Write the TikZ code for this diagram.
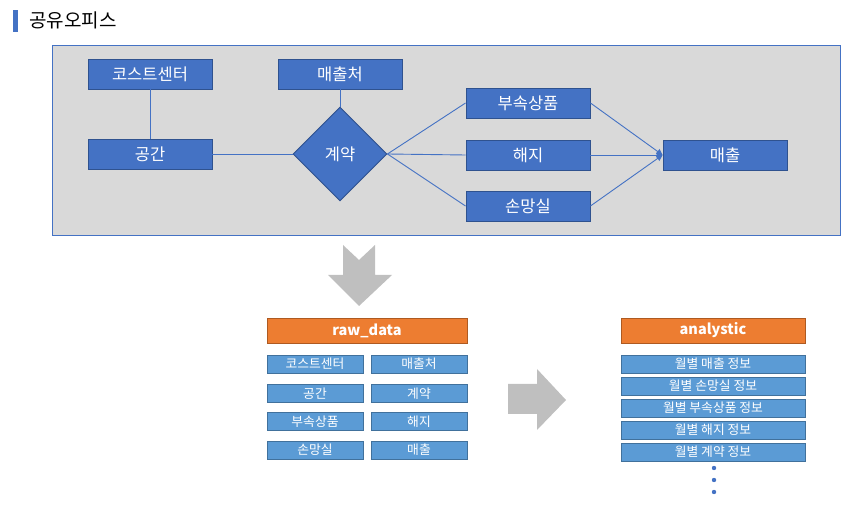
\documentclass[tikz,border=0pt]{standalone}
\usepackage{fontspec}
\setmainfont{Noto Sans CJK KR}
\usetikzlibrary{shapes.geometric,arrows.meta}
\definecolor{ent}{HTML}{4472C4}
\definecolor{entb}{HTML}{2F528F}
\definecolor{panel}{HTML}{D9D9D9}
\definecolor{org}{HTML}{ED7D31}
\definecolor{orgb}{HTML}{AE5A21}
\definecolor{lb}{HTML}{5B9BD5}
\definecolor{lbb}{HTML}{41719C}
\definecolor{garrow}{HTML}{BFBFBF}
\begin{document}
\begin{tikzpicture}[x=1pt,y=-1pt,
  entity/.style={draw=entb,fill=ent,line width=0.9pt,minimum width=124pt,minimum height=30pt,inner sep=0pt,text=white,font=\fontsize{16.5}{18}\selectfont},
  rel/.style={diamond,draw=entb,fill=ent,line width=0.9pt,minimum width=94pt,minimum height=94pt,inner sep=0pt,text=white,font=\fontsize{16.5}{18}\selectfont},
  conn/.style={draw=ent,line width=0.9pt},
  arr/.style={conn,-{Triangle[length=6pt,width=6pt]}},
  hdr/.style={draw=orgb,fill=org,line width=0.9pt,minimum height=25pt,inner sep=0pt,text=white,font=\bfseries\fontsize{14.5}{16}\selectfont},
  cell/.style={draw=lbb,fill=lb,line width=0.9pt,minimum height=18pt,inner sep=0pt,text=white,font=\fontsize{12.8}{14}\selectfont},
  blk/.style={fill=garrow,draw=none}]
\useasboundingbox (0,0) rectangle (865,510);
% title
\fill[ent] (13,10) rectangle (18,32);
\node[anchor=west,inner sep=0pt,font=\fontsize{19}{21}\selectfont] (title) at (29,20) {공유오피스};
% panel
\draw[draw=ent,fill=panel,line width=0.9pt] (52,45) rectangle (840,235);
\node[entity] (cost) at (150,74) {코스트센터};
\node[entity] (cust) at (340,74) {매출처};
\node[entity] (space) at (150,154) {공간};
\node[rel] (contract) at (340,154) {계약};
\node[entity] (acc) at (528,103) {부속상품};
\node[entity] (term) at (528,155) {해지};
\node[entity] (loss) at (528,206) {손망실};
\node[entity] (sales) at (725,155) {매출};
\draw[conn] (cost.south) -- (space.north);
\draw[conn] (cust.south) -- (contract.north);
\draw[conn] (space.east) -- (contract.west);
\draw[conn] (contract.east) -- (acc.west);
\draw[conn] (contract.east) -- (term.west);
\draw[conn] (contract.east) -- (loss.west);
\draw[arr] (acc.east) -- (sales.west);
\draw[arr] (term.east) -- (sales.west);
\draw[arr] (loss.east) -- (sales.west);
% block arrows
\fill[blk] (343,245) -- (359,260) -- (375,245) -- (375,275) -- (392,275) -- (359,306) -- (328,275) -- (343,275) -- cycle;
\fill[blk] (508,384) -- (537,384) -- (537,369) -- (566,400) -- (537,430) -- (537,414) -- (508,414) -- cycle;
% raw data
\node[hdr,minimum width=200pt] (raw) at (367,330.5) {raw\_data};
\node[cell,minimum width=96pt] (r1) at (315,364) {코스트센터};
\node[cell,minimum width=96pt] (r2) at (419,364) {매출처};
\node[cell,minimum width=96pt] (r3) at (315,393.5) {공간};
\node[cell,minimum width=96pt] (r4) at (419,393.5) {계약};
\node[cell,minimum width=96pt] (r5) at (315,421.5) {부속상품};
\node[cell,minimum width=96pt] (r6) at (419,421.5) {해지};
\node[cell,minimum width=96pt] (r7) at (315,450) {손망실};
\node[cell,minimum width=96pt] (r8) at (419,450) {매출};
% analystic
\node[hdr,minimum width=184pt] (ana) at (713,330.5) {analystic};
\node[cell,minimum width=184pt] (a1) at (713,364) {월별 매출 정보};
\node[cell,minimum width=184pt] (a2) at (713,386) {월별 손망실 정보};
\node[cell,minimum width=184pt] (a3) at (713,408) {월별 부속상품 정보};
\node[cell,minimum width=184pt] (a4) at (713,430) {월별 해지 정보};
\node[cell,minimum width=184pt] (a5) at (713,452) {월별 계약 정보};
\fill[ent] (714,468) circle (2.2) (714,480) circle (2.2) (714,492) circle (2.2);
\end{tikzpicture}
\end{document}
